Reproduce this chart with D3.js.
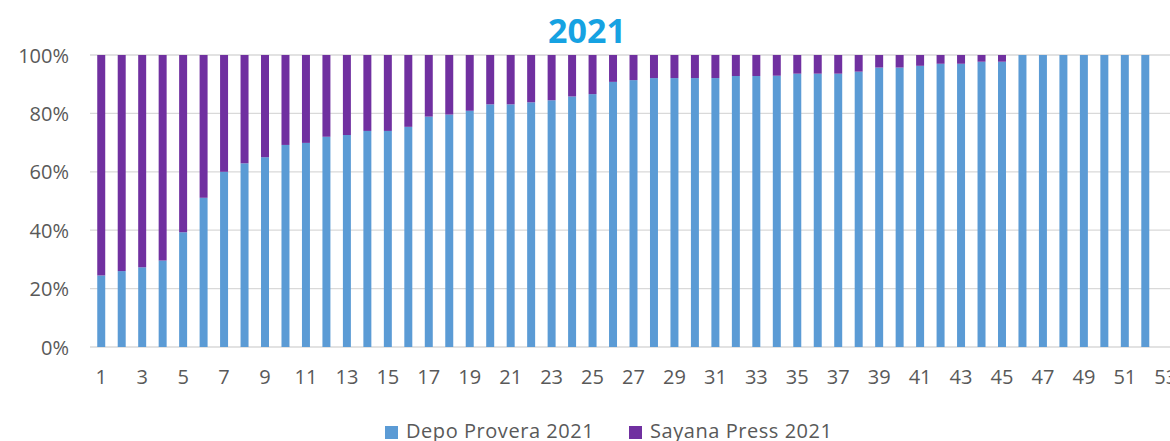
<!DOCTYPE html>
<html>
<head>
<meta charset="utf-8">
<script src="https://cdn.jsdelivr.net/npm/d3@7"></script>
<style>
  html, body { margin: 0; padding: 0; background: #fff; overflow: hidden; }
  text { font-family: "Open Sans", sans-serif; }
</style>
</head>
<body>
<svg id="chart" width="1170" height="441"></svg>
<script>
// ---- data ----
const categories = d3.range(1, 54).map(String); // weeks 1..53
const depoProvera2021 = [24.5, 26, 27.3, 29.6, 39.3, 51.1, 60.0, 62.9, 65.0, 69.2,
  69.9, 72.0, 72.6, 74.0, 74.0, 75.4, 78.9, 79.6, 80.9, 83.1,
  83.1, 83.8, 84.5, 85.8, 86.6, 90.8, 91.4, 92.1, 92.1, 92.1,
  92.1, 92.8, 92.8, 92.9, 93.6, 93.6, 93.6, 94.3, 95.7, 95.7,
  96.3, 97.0, 97.0, 97.7, 97.7, 100, 100, 100, 100, 100,
  100, 100, null];
const sayanaPress2021 = depoProvera2021.map(v => v == null ? null : +(100 - v).toFixed(1));
const yTicks = [0, 0.2, 0.4, 0.6, 0.8, 1.0];
const seriesNames = ["Depo Provera 2021", "Sayana Press 2021"];
const seriesColors = ["#5b9bd5", "#7030a0"];
const titleText = "2021";

// ---- layout ----
const svg = d3.select("#chart");
const x = d3.scaleBand().domain(categories).range([91, 1176]).paddingInner(0.61).paddingOuter(0.305);
const y = d3.scaleLinear().domain([0, 1]).range([347, 55]);

// gridlines
svg.append("g").selectAll("line").data(yTicks).join("line")
  .attr("x1", 90).attr("x2", 1176)
  .attr("y1", d => y(d)).attr("y2", d => y(d))
  .attr("stroke", "#d9d9d9").attr("stroke-width", 1.3);

// stacked bars
const rows = categories.map((c, i) => ({ cat: c, depo: depoProvera2021[i], sayana: sayanaPress2021[i] }))
  .filter(r => r.depo != null);
const stack = d3.stack().keys(["depo", "sayana"])
  .offset(d3.stackOffsetExpand);
const stacked = stack(rows);
svg.append("g").selectAll("g").data(stacked).join("g")
  .attr("fill", (d, i) => seriesColors[i])
  .selectAll("rect").data(d => d).join("rect")
  .attr("x", d => x(d.data.cat))
  .attr("width", x.bandwidth())
  .attr("y", d => y(d[1]))
  .attr("height", d => Math.max(0, y(d[0]) - y(d[1])));

// y axis labels
const yAxis = d3.axisLeft(y).tickValues(yTicks).tickFormat(d3.format(".0%")).tickSize(0).tickPadding(0);
const gy = svg.append("g").attr("transform", "translate(69,0)").call(yAxis);
gy.select(".domain").remove();
gy.selectAll("text").attr("font-size", 20).attr("fill", "#595959")
  .attr("font-family", "Open Sans, sans-serif").attr("dy", "0.35em");

// x axis labels
const xAxis = d3.axisBottom(x).tickValues(categories.filter((c, i) => i % 2 === 0)).tickSize(0).tickPadding(0);
const gx = svg.append("g").attr("transform", "translate(0,384)").call(xAxis);
gx.select(".domain").remove();
gx.selectAll("text").attr("font-size", 20).attr("fill", "#595959")
  .attr("font-family", "Open Sans, sans-serif").attr("dy", 0);

// title
svg.append("text").attr("x", 587).attr("y", 43).attr("text-anchor", "middle")
  .attr("font-size", 34).attr("font-weight", "bold").attr("fill", "#16a2e2")
  .text(titleText);

// legend
const legendX = [385, 629];
const lg = svg.append("g").selectAll("g").data(seriesNames).join("g")
  .attr("transform", (d, i) => `translate(${legendX[i]},0)`);
lg.append("rect").attr("x", 0).attr("y", 426).attr("width", 13).attr("height", 13)
  .attr("fill", (d, i) => seriesColors[i]);
lg.append("text").attr("x", 21).attr("y", 438).attr("font-size", 20).attr("fill", "#595959")
  .attr("letter-spacing", "0.55px")
  .text(d => d);
</script>
</body>
</html>
